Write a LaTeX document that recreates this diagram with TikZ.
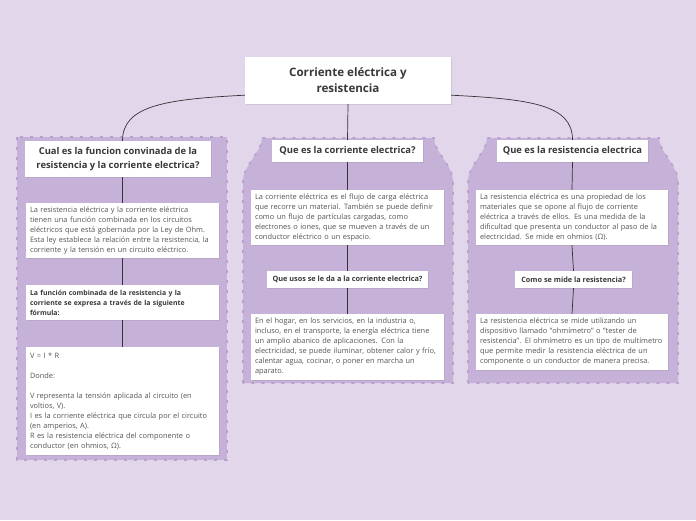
\documentclass[tikz,border=0pt]{standalone}
\usepackage{fontspec}
\setmainfont{Open Sans}
\usetikzlibrary{shadows}
\definecolor{bgc}{HTML}{E2D6EA}
\definecolor{panelc}{HTML}{C6B1D8}
\definecolor{edgec}{HTML}{B9A1CD}
\definecolor{headc}{HTML}{383838}
\definecolor{bodyc}{HTML}{555555}
\definecolor{linec}{HTML}{333333}

\begin{document}
\begin{tikzpicture}[x=1pt,y=-1pt,
  panel/.style={fill=panelc,draw=edgec,line width=1.6pt,dash pattern=on 3pt off 7pt},
  box/.style={fill=white,draw=none,inner sep=0pt,drop shadow={shadow xshift=.8pt,shadow yshift=-1pt,opacity=.2}},
  headbox/.style={box,align=center,text=headc,font=\fontsize{9.4}{13.5}\selectfont\bfseries},
  subbox/.style={box,align=center,text=headc,font=\fontsize{7.3}{10}\selectfont\bfseries},
  notebox/.style={box,align=left,text=bodyc,inner xsep=4pt,font=\fontsize{7.4}{10}\selectfont},
  link/.style={draw=linec,line width=.7pt}]
\fill[bgc] (0,0) rectangle (696,520);
% panels
\path[panel] (17,137) rectangle (227,460);
\path[panel] (243,383) -- (243,182) .. controls (243,165) and (262,152) .. (262,138) -- (434,138) .. controls (434,152) and (453,165) .. (453,182) -- (453,383) -- cycle;
\path[panel] (468,383) -- (468,182) .. controls (468,165) and (487,152) .. (487,138) -- (659,138) .. controls (659,152) and (678,165) .. (678,182) -- (678,383) -- cycle;
% root
\node[box,align=center,text=headc,font=\fontsize{11.6}{16}\selectfont\bfseries,minimum width=206,minimum height=47] (root) at (348,80.5) {Corriente eléctrica y\\resistencia};
% left column
\node[headbox,minimum width=186,minimum height=36] (lhead) at (118,159) {Cual es la funcion convinada de la\\resistencia y la corriente electrica?};
\node[notebox,text width=185,minimum height=55] (lnote1) at (122.5,230.5) {La resistencia eléctrica y la corriente eléctrica\\tienen una función combinada en los circuitos\\eléctricos que está gobernada por la Ley de Ohm.\\Esta ley establece la relación entre la resistencia, la\\corriente y la tensión en un circuito eléctrico.};
\node[notebox,text width=185,minimum height=35,text=headc,font=\fontsize{6.9}{10}\selectfont\bfseries] (lnote2) at (122.5,302.5) {La función combinada de la resistencia y la\\corriente se expresa a través de la siguiente\\fórmula:};
\node[notebox,text width=185,minimum height=108] (lnote3) at (122.5,401) {V = I * R\\[10pt]Donde:\\[10pt]V representa la tensión aplicada al circuito (en\\voltios, V).\\I es la corriente eléctrica que circula por el circuito\\(en amperios, A).\\R es la resistencia eléctrica del componente o\\conductor (en ohmios, Ω).};
% middle column
\node[headbox,minimum width=151,minimum height=22] (mhead) at (347.5,151) {Que es la corriente electrica?};
\node[notebox,text width=185,minimum height=55] (mnote1) at (347.5,217.5) {La corriente eléctrica es el flujo de carga eléctrica\\que recorre un material. También se puede definir\\como un flujo de partículas cargadas, como\\electrones o iones, que se mueven a través de un\\conductor eléctrico o un espacio.};
\node[subbox,minimum width=161,minimum height=17] (msub) at (347.5,279.5) {Que usos se le da a la corriente electrica?};
\node[notebox,text width=185,minimum height=66] (mnote2) at (347.5,347) {En el hogar, en los servicios, en la industria o,\\incluso, en el transporte, la energía eléctrica tiene\\un amplio abanico de aplicaciones. Con la\\electricidad, se puede iluminar, obtener calor y frío,\\calentar agua, cocinar, o poner en marcha un\\aparato.};
% right column
\node[headbox,minimum width=151,minimum height=22] (rhead) at (572.5,151) {Que es la resistencia electrica};
\node[notebox,text width=184,minimum height=55] (rnote1) at (572,217.5) {La resistencia eléctrica es una propiedad de los\\materiales que se opone al flujo de corriente\\eléctrica a través de ellos. Es una medida de la\\dificultad que presenta un conductor al paso de la\\electricidad. Se mide en ohmios (Ω).};
\node[subbox,minimum width=117,minimum height=17] (rsub) at (573.5,279.5) {Como se mide la resistencia?};
\node[notebox,text width=184,minimum height=56] (rnote2) at (572,342) {La resistencia eléctrica se mide utilizando un\\dispositivo llamado "ohmímetro" o "tester de\\resistencia". El ohmímetro es un tipo de multímetro\\que permite medir la resistencia eléctrica de un\\componente o un conductor de manera precisa.};
% connectors
\draw[link] ([yshift=9pt]root.south west) .. controls +(-80,4) and +(0,-35) .. (lnote1.north |- lhead.north);
\draw[link] (root.south) -- (mhead.north);
\draw[link] ([yshift=9pt]root.south east) .. controls +(80,4) and +(0,-35) .. (rhead.north);
\draw[link] (lnote1.north |- lhead.south) -- (lnote1.north);
\draw[link] (lnote1.south) -- (lnote2.north);
\draw[link] (lnote2.south) -- (lnote3.north);
\draw[link] (mhead.south) -- (mnote1.north);
\draw[link] (mnote1.south) -- (msub.north);
\draw[link] (msub.south) -- (mnote2.north);
\draw[link] (rhead.south) -- (rnote1.north);
\draw[link] (rnote1.south) -- (rsub.north);
\draw[link] (rsub.south) -- (rnote2.north);
\end{tikzpicture}
\end{document}
